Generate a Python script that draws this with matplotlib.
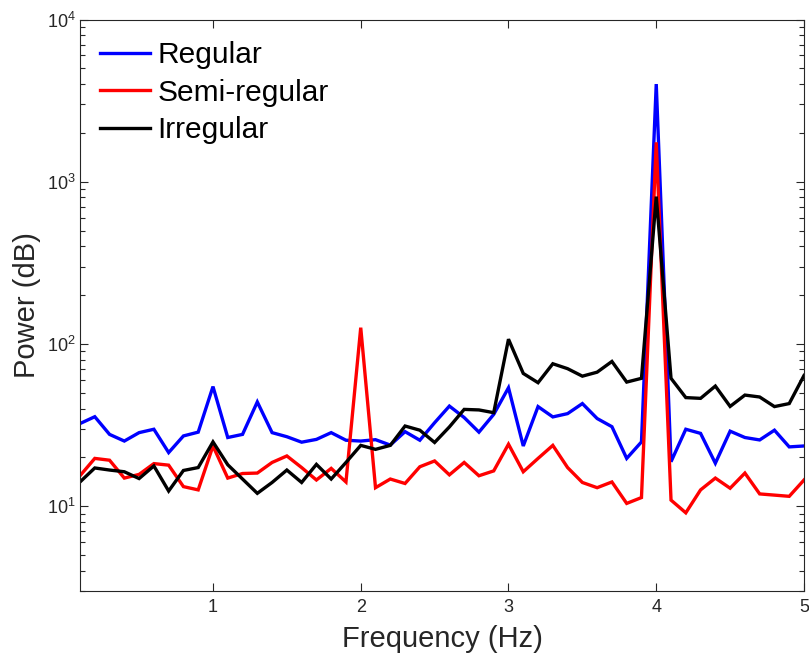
import matplotlib
matplotlib.use("Agg")
import matplotlib.pyplot as plt
import numpy as np
from matplotlib.ticker import LogLocator, NullFormatter, FixedLocator

plt.rcParams['font.family'] = ['Liberation Sans', 'DejaVu Sans']
plt.rcParams['mathtext.fontset'] = 'custom'
plt.rcParams['mathtext.rm'] = 'Liberation Sans'
plt.rcParams['mathtext.it'] = 'Liberation Sans:italic'

freq = [0.1, 0.2, 0.3, 0.4, 0.5, 0.6, 0.7, 0.8, 0.9, 1.0,
        1.1, 1.2, 1.3, 1.4, 1.5, 1.6, 1.7, 1.8, 1.9, 2.0,
        2.1, 2.2, 2.3, 2.4, 2.5, 2.6, 2.7, 2.8, 2.9, 3.0,
        3.1, 3.2, 3.3, 3.4, 3.5, 3.6, 3.7, 3.8, 3.9, 4.0,
        4.1, 4.2, 4.3, 4.4, 4.5, 4.6, 4.7, 4.8, 4.9, 5.0]

regular = [32.3, 35.6, 27.7, 25.2, 28.4, 29.8, 21.4, 27.1, 28.6, 54.6,
           26.5, 27.7, 43.9, 28.4, 26.8, 24.8, 25.8, 28.4, 25.5, 25.2,
           25.7, 23.8, 28.8, 25.5, 32.7, 41.4, 35.2, 28.6, 36.8, 53.7,
           23.5, 41.1, 35.5, 37.2, 42.9, 34.7, 30.9, 19.7, 24.9, 4000,
           18.8, 29.8, 28.1, 18.4, 29.0, 26.5, 25.6, 29.4, 23.2, 23.5]

semi_regular = [15.4, 19.7, 19.2, 14.9, 15.7, 18.3, 17.9, 13.2, 12.6, 23.5,
                14.9, 15.9, 16.0, 18.6, 20.4, 17.3, 14.5, 17.1, 14.1, 126,
                13.0, 14.7, 13.8, 17.5, 19.0, 15.6, 18.6, 15.4, 16.5, 24.1,
                16.3, 19.7, 23.7, 17.3, 14.0, 13.0, 14.1, 10.4, 11.3, 1750,
                10.9, 9.1, 12.6, 14.9, 12.9, 16.0, 11.9, 11.7, 11.5, 14.5]

irregular = [14.1, 17.2, 16.7, 16.3, 14.8, 17.7, 12.4, 16.6, 17.3, 24.9,
             18.0, 14.7, 12.0, 14.0, 16.7, 14.0, 18.1, 14.7, 18.6, 23.7,
             22.4, 23.7, 31.2, 29.4, 24.7, 30.8, 39.5, 39.2, 37.7, 107,
             65.8, 57.7, 75.5, 70.4, 63.3, 67.0, 78.0, 58.2, 61.4, 810,
             61.4, 46.7, 46.2, 55.0, 41.2, 48.4, 47.1, 41.1, 42.9, 63.9]

series_names = ['Regular', 'Semi-regular', 'Irregular']
series_colors = ['#0000ff', '#ff0000', '#000000']
x_ticks = [1, 2, 3, 4, 5]

fig = plt.figure(figsize=(8.09, 6.60), dpi=100)
ax = fig.add_axes([80/809, 1-591/660, 724/809, 571.5/660])

for vals, name, col in zip([regular, semi_regular, irregular], series_names, series_colors):
    ax.plot(freq, vals, color=col, lw=2.4, label=name, solid_joinstyle='miter')

ax.set_yscale('log')
ax.set_xlim(0.1, 5)
ax.set_ylim(3, 1e4)
ax.xaxis.set_major_locator(FixedLocator(x_ticks))
ax.yaxis.set_major_locator(LogLocator(base=10, numticks=10))
ax.yaxis.set_minor_locator(LogLocator(base=10, subs=np.arange(2, 10), numticks=20))
ax.yaxis.set_minor_formatter(NullFormatter())

gray = '#262626'
for s in ax.spines.values():
    s.set_color(gray)
    s.set_linewidth(0.8)
ax.tick_params(which='both', direction='in', top=True, right=True, colors=gray, labelcolor=gray)
ax.tick_params(which='major', length=5.8, width=0.8, labelsize=13)
ax.tick_params(which='minor', length=3.6, width=0.8)
ax.tick_params(axis='x', which='major', pad=6)
ax.tick_params(axis='y', which='major', pad=3)

ax.set_xlabel('Frequency (Hz)', fontsize=21, color=gray, labelpad=6)
ax.set_ylabel('Power (dB)', fontsize=21, color=gray, labelpad=4)

leg = ax.legend(loc='upper left', bbox_to_anchor=(0.0276, 0.962), frameon=False,
                fontsize=21.5, handlelength=1.67, handletextpad=0.25,
                labelspacing=0.32, borderpad=0, borderaxespad=0)

fig.savefig('out.png', dpi=100)
